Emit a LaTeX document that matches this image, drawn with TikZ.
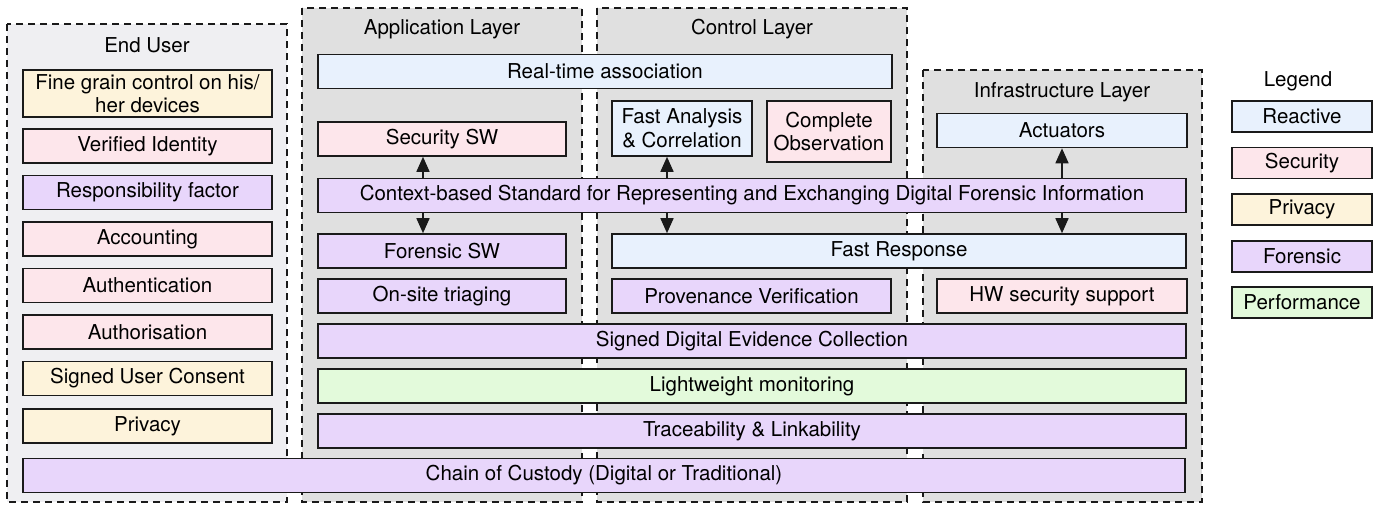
\documentclass[tikz,border=0pt]{standalone}
\usepackage{fontspec}
\setmainfont{TeX Gyre Heros}
\usetikzlibrary{arrows.meta,positioning,backgrounds}
\definecolor{reactive}{HTML}{E8F1FD}
\definecolor{security}{HTML}{FDE6EB}
\definecolor{privacy}{HTML}{FDF3DB}
\definecolor{forensic}{HTML}{E8D6FB}
\definecolor{performance}{HTML}{E3FADB}
\definecolor{panelgray}{HTML}{E0E0E0}
\definecolor{usergray}{HTML}{EFEFF2}
\definecolor{ink}{HTML}{1A1A1A}

\tikzset{
  box/.style={draw=ink, line width=1.6pt, inner sep=0pt, anchor=center,
    minimum height=34pt, align=center,
    font=\fontsize{20.5}{23.5}\selectfont},
  panel/.style={draw=ink, line width=1.4pt, dash pattern=on 7pt off 5pt},
  title/.style={anchor=center, font=\fontsize{20.5}{23.5}\selectfont},
  arr/.style={line width=1.6pt, draw=ink, -{Triangle[length=15pt,width=13pt]}}
}

\begin{document}
\begin{tikzpicture}[x=1pt,y=-1pt]

\useasboundingbox (0,0) rectangle (1379,504);

% ===== PANELS =====
\draw[panel,fill=usergray] (7,24) rectangle (287,502);
\draw[panel,fill=panelgray] (302,8) rectangle (582,502);
\draw[panel,fill=panelgray] (597,8) rectangle (907,502);
\draw[panel,fill=panelgray] (923,70) rectangle (1202,502);

\node[title] (tuser) at (147,45) {End User};
\node[title] (tapp) at (442,29) {Application Layer};
\node[title] (tctrl) at (752,29) {Control Layer};
\node[title] (tinfra) at (1062,92) {Infrastructure Layer};

% ===== END USER =====
\node[box,fill=privacy,minimum width=249pt,minimum height=47pt] (fine) at (147.5,93.5)
  {Fine grain control on his/\\her devices};
\node[box,fill=security,minimum width=249pt] (verified) at (147.5,146) {Verified Identity};
\node[box,fill=forensic,minimum width=249pt] (respons) at (147.5,192.5) {Responsibility factor};
\node[box,fill=security,minimum width=249pt] (account) at (147.5,239) {Accounting};
\node[box,fill=security,minimum width=249pt] (authent) at (147.5,285.5) {Authentication};
\node[box,fill=security,minimum width=249pt] (authoris) at (147.5,332) {Authorisation};
\node[box,fill=privacy,minimum width=249pt] (consent) at (147.5,378.5) {Signed User Consent};
\node[box,fill=privacy,minimum width=249pt] (privacy) at (147.5,426) {Privacy};

% ===== APPLICATION / CONTROL / INFRASTRUCTURE =====
\node[box,fill=reactive,minimum width=574pt] (realtime) at (605,71.5) {Real-time association};
\node[box,fill=security,minimum width=248pt] (secsw) at (442,139) {Security SW};
\node[box,fill=reactive,minimum width=140pt,minimum height=55pt] (fastana) at (682,128.5)
  {Fast Analysis\\\& Correlation};
\node[box,fill=security,minimum width=124pt,minimum height=61pt] (complete) at (829,131.5)
  {Complete\\Observation};
\node[box,fill=reactive,minimum width=250pt] (actuators) at (1062,130.5) {Actuators};

\node[box,fill=forensic,minimum width=868pt] (context) at (752,195.5)
  {Context-based Standard for Representing and Exchanging Digital Forensic Information};

\node[box,fill=forensic,minimum width=248pt] (forsw) at (442,251) {Forensic SW};
\node[box,fill=reactive,minimum width=574pt] (fastresp) at (899,251) {Fast Response};

\node[box,fill=forensic,minimum width=248pt] (onsite) at (442,296) {On-site triaging};
\node[box,fill=forensic,minimum width=279pt] (provenance) at (751.5,296) {Provenance Verification};
\node[box,fill=security,minimum width=250pt] (hwsec) at (1062,296) {HW security support};

\node[box,fill=forensic,minimum width=868pt] (signed) at (752,341) {Signed Digital Evidence Collection};
\node[box,fill=performance,minimum width=868pt] (lightw) at (752,386) {Lightweight monitoring};
\node[box,fill=forensic,minimum width=868pt] (trace) at (752,431) {Traceability \& Linkability};

\node[box,fill=forensic,minimum width=1162pt] (custody) at (604,475.5)
  {Chain of Custody (Digital or Traditional)};

% Arrows from the context standard
\coordinate (colA) at (423,0);
\coordinate (colB) at (667,0);
\coordinate (colC) at (1062,0);
\draw[arr] (context.north -| colA) -- (secsw.south -| colA);
\draw[arr] (context.south -| colA) -- (forsw.north -| colA);
\draw[arr] (context.north -| colB) -- (fastana.south -| colB);
\draw[arr] (context.south -| colB) -- (fastresp.north -| colB);
\draw[arr] (context.north -| colC) -- (actuators.south -| colC);
\draw[arr] (context.south -| colC) -- (fastresp.north -| colC);

% ===== LEGEND =====
\node[title] (tlegend) at (1298,81) {Legend};
\node[box,fill=reactive,minimum width=140pt,minimum height=31pt] (lreact) at (1302,116.5) {Reactive};
\node[box,fill=security,minimum width=140pt,minimum height=31pt] (lsec) at (1302,163) {Security};
\node[box,fill=privacy,minimum width=140pt,minimum height=31pt] (lpriv) at (1302,209.5) {Privacy};
\node[box,fill=forensic,minimum width=140pt,minimum height=31pt] (lfor) at (1302,256.5) {Forensic};
\node[box,fill=performance,minimum width=140pt,minimum height=31pt] (lperf) at (1302,302.5) {Performance};

\end{tikzpicture}
\end{document}
